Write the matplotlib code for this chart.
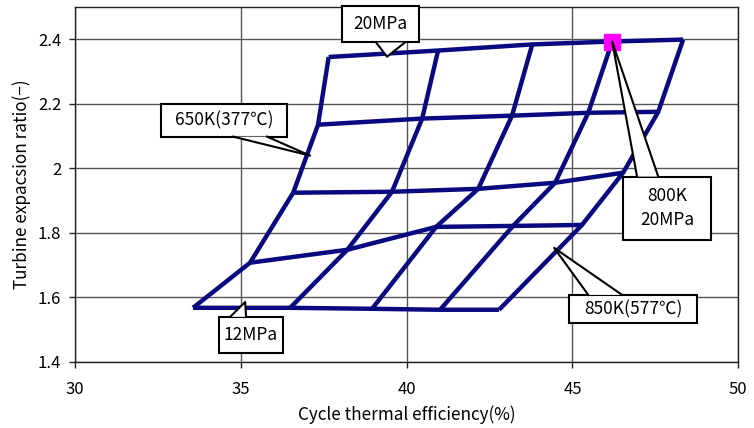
import numpy as np
import matplotlib.pyplot as plt
from matplotlib.patches import Rectangle, Polygon
from matplotlib.ticker import FormatStrFormatter

plt.rcParams['font.family'] = ['Noto Sans CJK JP', 'DejaVu Sans']

# grid of operating points: rows = turbine inlet pressure, columns = inlet temperature
pressures = ['12MPa', '14MPa', '16MPa', '18MPa', '20MPa']
temperatures = ['650K', '700K', '750K', '800K', '850K']

# cycle thermal efficiency (%)
eff = np.array([
    [33.56, 36.49, 38.96, 41.01, 42.79],   # 12MPa
    [35.28, 38.21, 40.89, 43.21, 45.29],   # 14MPa
    [36.58, 39.56, 42.16, 44.48, 46.53],   # 16MPa
    [37.33, 40.47, 43.18, 45.48, 47.59],   # 18MPa
    [37.65, 40.95, 43.79, 46.20, 48.34],   # 20MPa
])
# turbine expansion ratio (-)
ratio = np.array([
    [1.567, 1.567, 1.564, 1.561, 1.561],
    [1.707, 1.747, 1.818, 1.821, 1.824],
    [1.924, 1.927, 1.936, 1.955, 1.986],
    [2.135, 2.154, 2.163, 2.172, 2.175],
    [2.345, 2.365, 2.384, 2.393, 2.399],
])

# highlighted design point: 800K, 20MPa
pick_t, pick_p = 3, 4

line_color = '#0a0a80'

fig = plt.figure(figsize=(7.54, 4.28), dpi=100)
ax = fig.add_axes([0.0995, 0.155, 0.8795, 0.8286])

for j in range(len(temperatures)):
    ax.plot(eff[:, j], ratio[:, j], color=line_color, lw=3.2, solid_capstyle='butt', zorder=3)
for i in range(len(pressures)):
    ax.plot(eff[i, :], ratio[i, :], color=line_color, lw=3.2, solid_capstyle='butt', zorder=3)

ax.plot(eff[pick_p, pick_t], ratio[pick_p, pick_t], 's', color='#ff00ff', ms=11, zorder=4)

ax.set_xlim(30, 50)
ax.set_ylim(1.4, 2.5)
ax.set_xticks(np.arange(30, 51, 5))
ax.set_yticks([1.4, 1.6, 1.8, 2.0, 2.2, 2.4])
ax.yaxis.set_major_formatter(FormatStrFormatter('%g'))
ax.grid(True, color='#555555', lw=1.0)
ax.set_axisbelow(True)
for s in ax.spines.values():
    s.set_color('#222222')
    s.set_linewidth(1.0)
ax.tick_params(labelsize=12, length=4, width=1.0, color='#222222')
ax.tick_params(axis='x', pad=10)
ax.tick_params(axis='y', pad=6)

ax.set_xlabel('Cycle thermal efficiency(%)', fontsize=12.3, labelpad=5)
ax.set_ylabel('Turbine expacsion ratio(\u2212)', fontsize=12.3, labelpad=5)


def callout(text, box, base, tip):
    """Excel-style speech box: rectangle plus a pointer wedge.
    box = (x0, x1, y0, y1), base = (xa, xb, y) on the box edge."""
    x0, x1, y0, y1 = box
    ax.add_patch(Rectangle((x0, y0), x1 - x0, y1 - y0, fc='white', ec='black',
                           lw=1.5, zorder=6, clip_on=False))
    xa, xb, yb = base
    ax.add_patch(Polygon([(xa, yb), tip, (xb, yb)], closed=True, fc='white', ec='none',
                         zorder=7, clip_on=False))
    ax.plot([xa, tip[0], xb], [yb, tip[1], yb], color='black', lw=1.5,
            zorder=8, clip_on=False)
    ax.text((x0 + x1) / 2, (y0 + y1) / 2, text, fontsize=12.5, ha='center', va='center',
            linespacing=1.4, zorder=9)


callout('20MPa', (38.05, 40.38, 2.390, 2.502), (39.08, 39.95, 2.390), (39.41, 2.346))
callout('650K(377\u2103)', (32.59, 36.40, 2.098, 2.200), (34.77, 35.79, 2.098), (37.09, 2.039))
callout('800K\n20MPa', (46.53, 49.19, 1.778, 1.974), (46.95, 47.59, 1.974),
        (eff[pick_p, pick_t], ratio[pick_p, pick_t]))
callout('850K(577\u2103)', (44.90, 48.76, 1.520, 1.607), (45.48, 46.50, 1.607), (44.45, 1.753))
callout('12MPa', (34.34, 36.27, 1.427, 1.539), (34.68, 35.16, 1.539), (35.13, 1.585))

fig.savefig('out.png', dpi=100)
